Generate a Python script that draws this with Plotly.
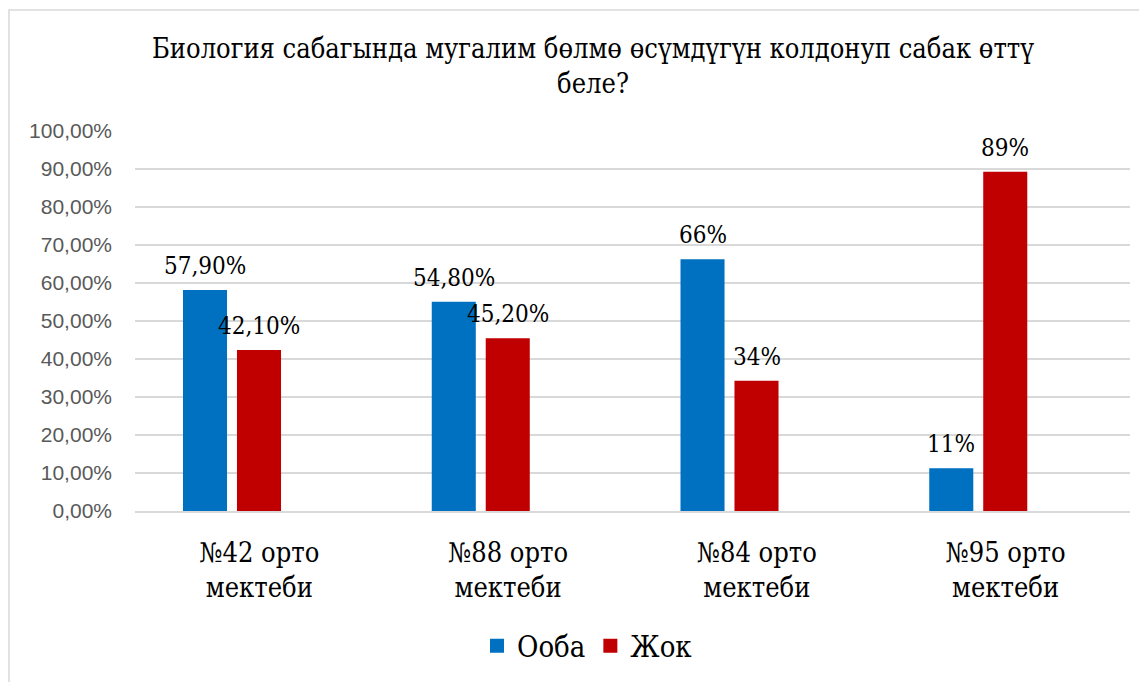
import plotly.graph_objects as go

categories = ["№42 орто<br>мектеби", "№88 орто<br>мектеби", "№84 орто<br>мектеби", "№95 орто<br>мектеби"]
ooba = [0.579, 0.548, 0.66, 0.11]
jok = [0.421, 0.452, 0.34, 0.89]
ooba_labels = ["57,90%", "54,80%", "66%", "11%"]
jok_labels = ["42,10%", "45,20%", "34%", "89%"]
series_names = ["Ооба", "Жок"]
colors = ["#0070C0", "#C00000"]
title_text = "Биология сабагында мугалим бөлмө өсүмдүгүн колдонуп сабак өттү<br>беле?"

SERIF_C = "DejaVu Serif Condensed, DejaVu Serif"
SANS = "Liberation Sans"
BAR_W = 0.169
OFFSETS = [-0.303, -0.086]

W, H = 1139, 674
ML, MR, MT, MB = 127, 17, 123, 171

xs = list(range(len(categories)))
fig = go.Figure()
annotations = []
for vals, labels, name, col, off in zip([ooba, jok], [ooba_labels, jok_labels], series_names, colors, OFFSETS):
    fig.add_trace(go.Bar(
        x=xs, y=vals, name=name, width=BAR_W, offset=off,
        marker=dict(color=col, line=dict(width=2, color=col)),
        hoverinfo="skip",
    ))
    for xi, v, lab in zip(xs, vals, labels):
        annotations.append(dict(
            x=xi + off + BAR_W / 2, y=v, xref="x", yref="y", text=lab,
            showarrow=False, yshift=25, yanchor="middle", xanchor="center",
            font=dict(family=SERIF_C, size=24, color="#000000"),
        ))

pw, ph = W - ML - MR, H - MT - MB
shapes = [dict(type="rect", xref="paper", yref="paper",
               x0=(1 - ML) / pw, x1=(W + 5 - ML) / pw,
               y0=-(MB + 5) / ph, y1=(H - MB - 2) / ph,
               line=dict(color="#D9D9D9", width=1.5), fillcolor="rgba(0,0,0,0)", layer="below")]

fig.update_layout(
    width=W, height=H,
    margin=dict(l=ML, r=MR, t=MT, b=MB),
    paper_bgcolor="white", plot_bgcolor="white",
    barmode="overlay",
    separators=", ",
    title=dict(text=title_text, x=585 / W, xref="container", xanchor="center",
               y=1 - 50 / H, yref="container", yanchor="middle",
               font=dict(family=SERIF_C, size=27, color="#000000")),
    xaxis=dict(range=[-0.5, 3.5], tickvals=xs, ticktext=categories, showgrid=False,
               showline=True, linecolor="#D9D9D9", linewidth=1.5, ticks="",
               ticklabelstandoff=17,
               tickfont=dict(family=SERIF_C, size=27, color="#000000"), zeroline=False),
    yaxis=dict(range=[0, 1.0], dtick=0.1, tickformat=".2%", showgrid=True,
               gridcolor="#D9D9D9", gridwidth=1.5, zeroline=False, showline=False,
               ticks="", ticklabelstandoff=22,
               tickfont=dict(family=SANS, size=21, color="#595959")),
    legend=dict(orientation="h", xref="container", yref="container",
                x=579 / W, xanchor="center", y=1 - 638 / H, yanchor="middle",
                font=dict(family=SERIF_C, size=29, color="#000000"),
                itemwidth=30, tracegroupgap=0),
    annotations=annotations,
    shapes=shapes,
    showlegend=True,
)

fig.write_html("out.html")
